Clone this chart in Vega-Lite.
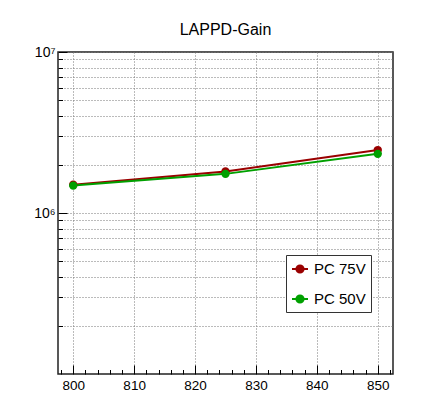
{
  "$schema": "https://vega.github.io/schema/vega-lite/v6.json",
  "width": 335,
  "height": 322,
  "autosize": {"type": "none"},
  "padding": {"left": 58, "top": 52, "right": 39, "bottom": 32},
  "background": "white",
  "title": {"text": "LAPPD-Gain", "fontSize": 16, "fontWeight": "normal", "font": "Liberation Sans", "color": "black", "anchor": "middle", "frame": "group", "offset": 7},
  "config": {
    "view": {"stroke": "#222", "strokeWidth": 1.5},
    "axis": {"labelFont": "Liberation Sans", "labelColor": "black", "labelFontSize": 13.5, "domain": false, "title": null, "tickColor": "black", "tickWidth": 1, "gridColor": "#777", "gridDash": [1, 2], "gridWidth": 1, "labelOverlap": false, "labelFlush": false, "labelBound": false}
  },
  "data": {"values": [
    {"hv": 800, "gain": 1500000, "series": "PC 75V"},
    {"hv": 825, "gain": 1810000, "series": "PC 75V"},
    {"hv": 850, "gain": 2460000, "series": "PC 75V"},
    {"hv": 800, "gain": 1480000, "series": "PC 50V"},
    {"hv": 825, "gain": 1750000, "series": "PC 50V"},
    {"hv": 850, "gain": 2330000, "series": "PC 50V"}
  ]},
  "layer": [
    {
      "mark": {"type": "line", "strokeWidth": 2},
      "encoding": {
        "x": {"field": "hv", "type": "quantitative", "scale": {"domain": [797.5, 852.5], "nice": false, "zero": false},
              "axis": {"orient": "bottom", "values": [800, 810, 820, 830, 840, 850], "format": "d", "tickSize": -9, "grid": true, "labelPadding": 13}},
        "y": {"field": "gain", "type": "quantitative", "scale": {"type": "log", "domain": [100000, 10000000], "nice": false},
              "axis": {"orient": "left", "values": [1000000, 10000000], "tickSize": -9, "grid": true, "labelPadding": 12, "labelDy": 2, "labelExpr": "datum.value >= 5000000 ? '10⁷' : '10⁶'", "labelFontSize": 14}},
        "color": {"field": "series", "type": "nominal", "scale": {"domain": ["PC 75V", "PC 50V"], "range": ["#9a0000", "#00a000"]},
                  "legend": {"orient": "none", "legendX": 228, "legendY": 203, "title": null, "fillColor": "white", "strokeColor": "#333", "padding": 5, "rowPadding": 13, "labelFontSize": 15, "labelFont": "Liberation Sans", "labelColor": "black", "labelOffset": 5, "symbolSize": 256, "symbolStrokeWidth": 2, "symbolType": "M-1,0H1M-0.45,0A0.45,0.45,0,1,0,0.45,0A0.45,0.45,0,1,0,-0.45,0Z"}}
      }
    },
    {
      "mark": {"type": "point", "filled": true, "size": 70, "opacity": 1},
      "encoding": {
        "x": {"field": "hv", "type": "quantitative",
              "axis": {"orient": "bottom", "values": [798, 802, 804, 806, 808, 812, 814, 816, 818, 822, 824, 826, 828, 832, 834, 836, 838, 842, 844, 846, 848, 852], "tickSize": -4.5, "grid": false, "labels": false}},
        "y": {"field": "gain", "type": "quantitative",
              "axis": {"orient": "left", "values": [200000, 300000, 400000, 500000, 600000, 700000, 800000, 900000, 2000000, 3000000, 4000000, 5000000, 6000000, 7000000, 8000000, 9000000], "tickSize": -4.5, "grid": true, "labels": false}},
        "color": {"field": "series", "type": "nominal"}
      }
    }
  ],
  "resolve": {"axis": {"x": "independent", "y": "independent"}}
}
